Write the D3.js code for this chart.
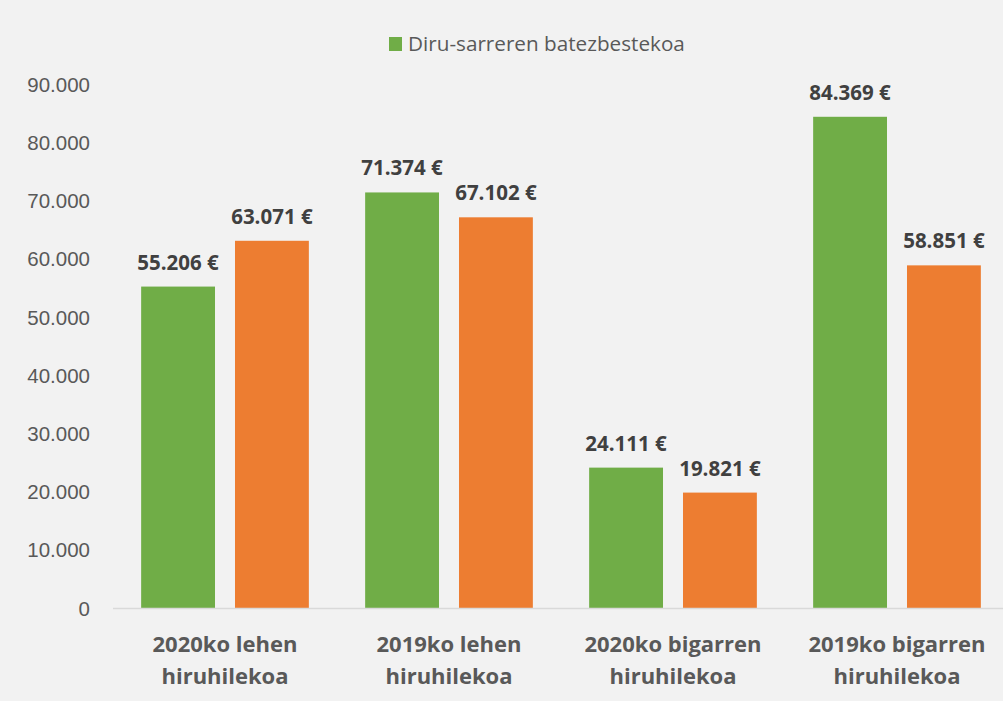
<!DOCTYPE html>
<meta charset="utf-8">
<style>
body { margin: 0; background: #f2f2f2; }
svg { display: block; font-family: "Open Sans", Lato, sans-serif; }
.tick text { fill: #595959; font-size: 20.5px; }
.val { fill: #404040; font-size: 20.5px; font-weight: bold; }
.cat { fill: #595959; font-size: 22px; font-weight: bold; }
</style>
<svg width="1003" height="701"></svg>
<script src="https://cdnjs.cloudflare.com/ajax/libs/d3/7.8.5/d3.min.js"></script>
<script>

const categories = [["2020ko lehen", "hiruhilekoa"], ["2019ko lehen", "hiruhilekoa"], ["2020ko bigarren", "hiruhilekoa"], ["2019ko bigarren", "hiruhilekoa"]];
const seriesNames = ["Diru-sarreren batezbestekoa", "bigarrena"];
const greenValues = [55206, 71374, 24111, 84369];
const orangeValues = [63071, 67102, 19821, 58851];
const yTicks = [0, 10000, 20000, 30000, 40000, 50000, 60000, 70000, 80000, 90000];

const colors = ["#70ad47", "#ed7d31"];

var svg = d3.select("svg");

var x = d3.scaleBand()
  .domain(d3.range(categories.length))
  .range([113, 1009]);

var xs = d3.scaleBand()
  .domain([0, 1])
  .range([0, x.bandwidth()])
  .paddingInner(0.213)
  .paddingOuter(0.3);

var y = d3.scaleLinear()
  .domain([0, 90000])
  .range([608, 84]);

const fmt = d3.formatLocale({ decimal: ",", thousands: ".", grouping: [3], currency: ["", " €"] });
const num = fmt.format(",d");

// y axis, no line, only labels
var yAxis = svg.append("g")
  .attr("transform", "translate(90,0)")
  .call(d3.axisLeft(y).tickValues(yTicks).tickSize(0).tickPadding(0).tickFormat(num));
yAxis.select(".domain").remove();
yAxis.selectAll("text").attr("dy", "0.35em");

// bars
var rows = categories.map((c, i) => [greenValues[i], orangeValues[i]]);

var group = svg.append("g").selectAll("g")
  .data(rows)
  .enter().append("g")
    .attr("transform", (d, i) => "translate(" + x(i) + ",0)");

group.selectAll("rect")
  .data(d => d)
  .enter().append("rect")
    .attr("x", (d, j) => xs(j))
    .attr("width", xs.bandwidth())
    .attr("y", d => y(d))
    .attr("height", d => y(0) - y(d))
    .attr("fill", (d, j) => colors[j]);

group.selectAll("text")
  .data(d => d)
  .enter().append("text")
    .attr("class", "val")
    .attr("x", (d, j) => xs(j) + xs.bandwidth() / 2)
    .attr("y", d => y(d) - 17)
    .attr("text-anchor", "middle")
    .text(d => num(d) + " €");

// baseline
svg.append("line")
  .attr("x1", 113).attr("x2", 1003)
  .attr("y1", y(0) + 0.5).attr("y2", y(0) + 0.5)
  .attr("stroke", "#d9d9d9")
  .attr("stroke-width", 1.5);

// category labels
svg.append("g").selectAll("text")
  .data(categories)
  .enter().append("text")
    .attr("class", "cat")
    .attr("text-anchor", "middle")
    .attr("x", (d, i) => x(i) + x.bandwidth() / 2)
    .attr("y", 652)
    .each(function(d) {
      d3.select(this).selectAll("tspan")
        .data(d)
        .enter().append("tspan")
          .attr("x", d3.select(this).attr("x"))
          .attr("dy", (t, k) => k === 0 ? 0 : 32)
          .text(t => t);
    });

// legend
var legend = svg.append("g").attr("transform", "translate(389,37)");
legend.append("rect").attr("width", 13).attr("height", 14).attr("fill", colors[0]);
legend.append("text")
  .attr("x", 19).attr("y", 14)
  .attr("fill", "#595959")
  .attr("font-size", "20.7px")
  .text(seriesNames[0]);

</script>
